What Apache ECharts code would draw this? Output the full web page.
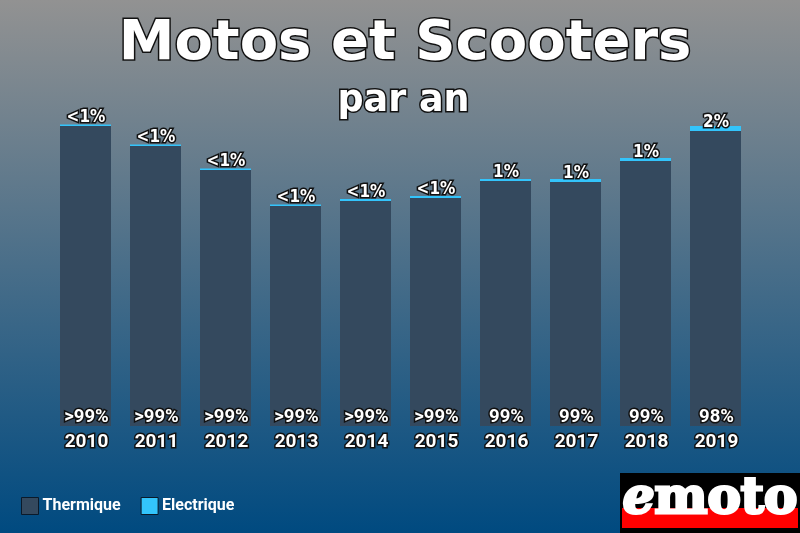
<!DOCTYPE html>
<html><head><meta charset="utf-8">
<style>html,body{margin:0;padding:0;background:#000}#c{width:800px;height:533px}</style>
<script src="https://cdn.jsdelivr.net/npm/echarts@6/dist/echarts.min.js"></script>
</head><body><div id="c"></div>
<script>
const categories = ['2010','2011','2012','2013','2014','2015','2016','2017','2018','2019'];
const thermique = [300,280,256,220,225,228,245,244,265,295];
const electrique = [1.5,1.5,1.5,1.5,2,2,2,3,3,5];
const thermiqueLabels = ['>99%','>99%','>99%','>99%','>99%','>99%','99%','99%','99%','98%'];
const electriqueLabels = ['<1%','<1%','<1%','<1%','<1%','<1%','1%','1%','1%','2%'];
const labelStyle = {color:'#fff',fontFamily:'Roboto',fontWeight:'bold',fontSize:18.5,textBorderColor:'#111',textBorderWidth:3};
const chart = echarts.init(document.getElementById('c'),null,{renderer:'canvas'});
chart.setOption({
  animation:false,
  backgroundColor:{type:'linear',x:0,y:0,x2:0,y2:1,colorStops:[{offset:0,color:'#929292'},{offset:1,color:'#004a80'}]},
  title:[
    {text:'Motos et Scooters',left:400,textAlign:'center',top:11,textStyle:{color:'#fff',fontFamily:'DejaVu Sans',fontWeight:'bold',fontSize:56,textBorderColor:'#111',textBorderWidth:3}},
    {text:'par an',left:398.5,textAlign:'center',top:78,textStyle:{color:'#fff',fontFamily:'DejaVu Sans',fontWeight:'bold',fontSize:36.5,textBorderColor:'#111',textBorderWidth:3}}
  ],
  grid:{left:50.5,width:700,top:100,height:326,containLabel:false},
  legend:{left:16,top:491,itemWidth:17,itemHeight:17,itemGap:20,icon:'rect',
    textStyle:{color:'#fff',fontFamily:'Roboto',fontWeight:'bold',fontSize:16,padding:[0,0,0,-1],lineHeight:20},
    data:[{name:'Thermique',itemStyle:{borderColor:'#0a1a2a',borderWidth:1}},{name:'Electrique',itemStyle:{borderColor:'#0a1a2a',borderWidth:1}}]},
  xAxis:{type:'category',data:categories,axisLine:{show:false},axisTick:{show:false},
    axisLabel:{...labelStyle,fontSize:19,margin:7,interval:0,padding:[0,0,0,2]}},
  yAxis:{type:'value',min:0,max:326,show:false,splitLine:{show:false}},
  series:[
    {name:'Thermique',type:'bar',stack:'a',barWidth:51,data:thermique,itemStyle:{color:'#34495e'},
      label:{show:true,position:'insideBottom',distance:0,offset:[1,1],...labelStyle,formatter:p=>thermiqueLabels[p.dataIndex]}},
    {name:'Electrique',type:'bar',stack:'a',barWidth:51,data:electrique,itemStyle:{color:'#33c4fb'},
      label:{show:true,position:'insideBottom',distance:1,offset:[0.5,1],...labelStyle,fontFamily:'DejaVu Sans Condensed',fontSize:17,textBorderWidth:3,formatter:p=>electriqueLabels[p.dataIndex]}}
  ],
  graphic:[
    {type:'rect',shape:{x:620,y:473,width:180,height:60},style:{fill:'#000'},silent:true},
    {type:'rect',shape:{x:622,y:508,width:176,height:20},style:{fill:'#f00'},silent:true},
    {type:'text',x:710,y:475,style:{text:'{e|e}moto',align:'center',verticalAlign:'top',fill:'#fff',fontFamily:'DejaVu Serif',fontWeight:'bold',fontSize:50,stroke:'#fff',lineWidth:3,
      rich:{e:{fontStyle:'italic',fontFamily:'DejaVu Serif',fontWeight:'bold',fontSize:50,fill:'#fff',stroke:'#fff',lineWidth:3}}}}
  ]
});
</script></body></html>
